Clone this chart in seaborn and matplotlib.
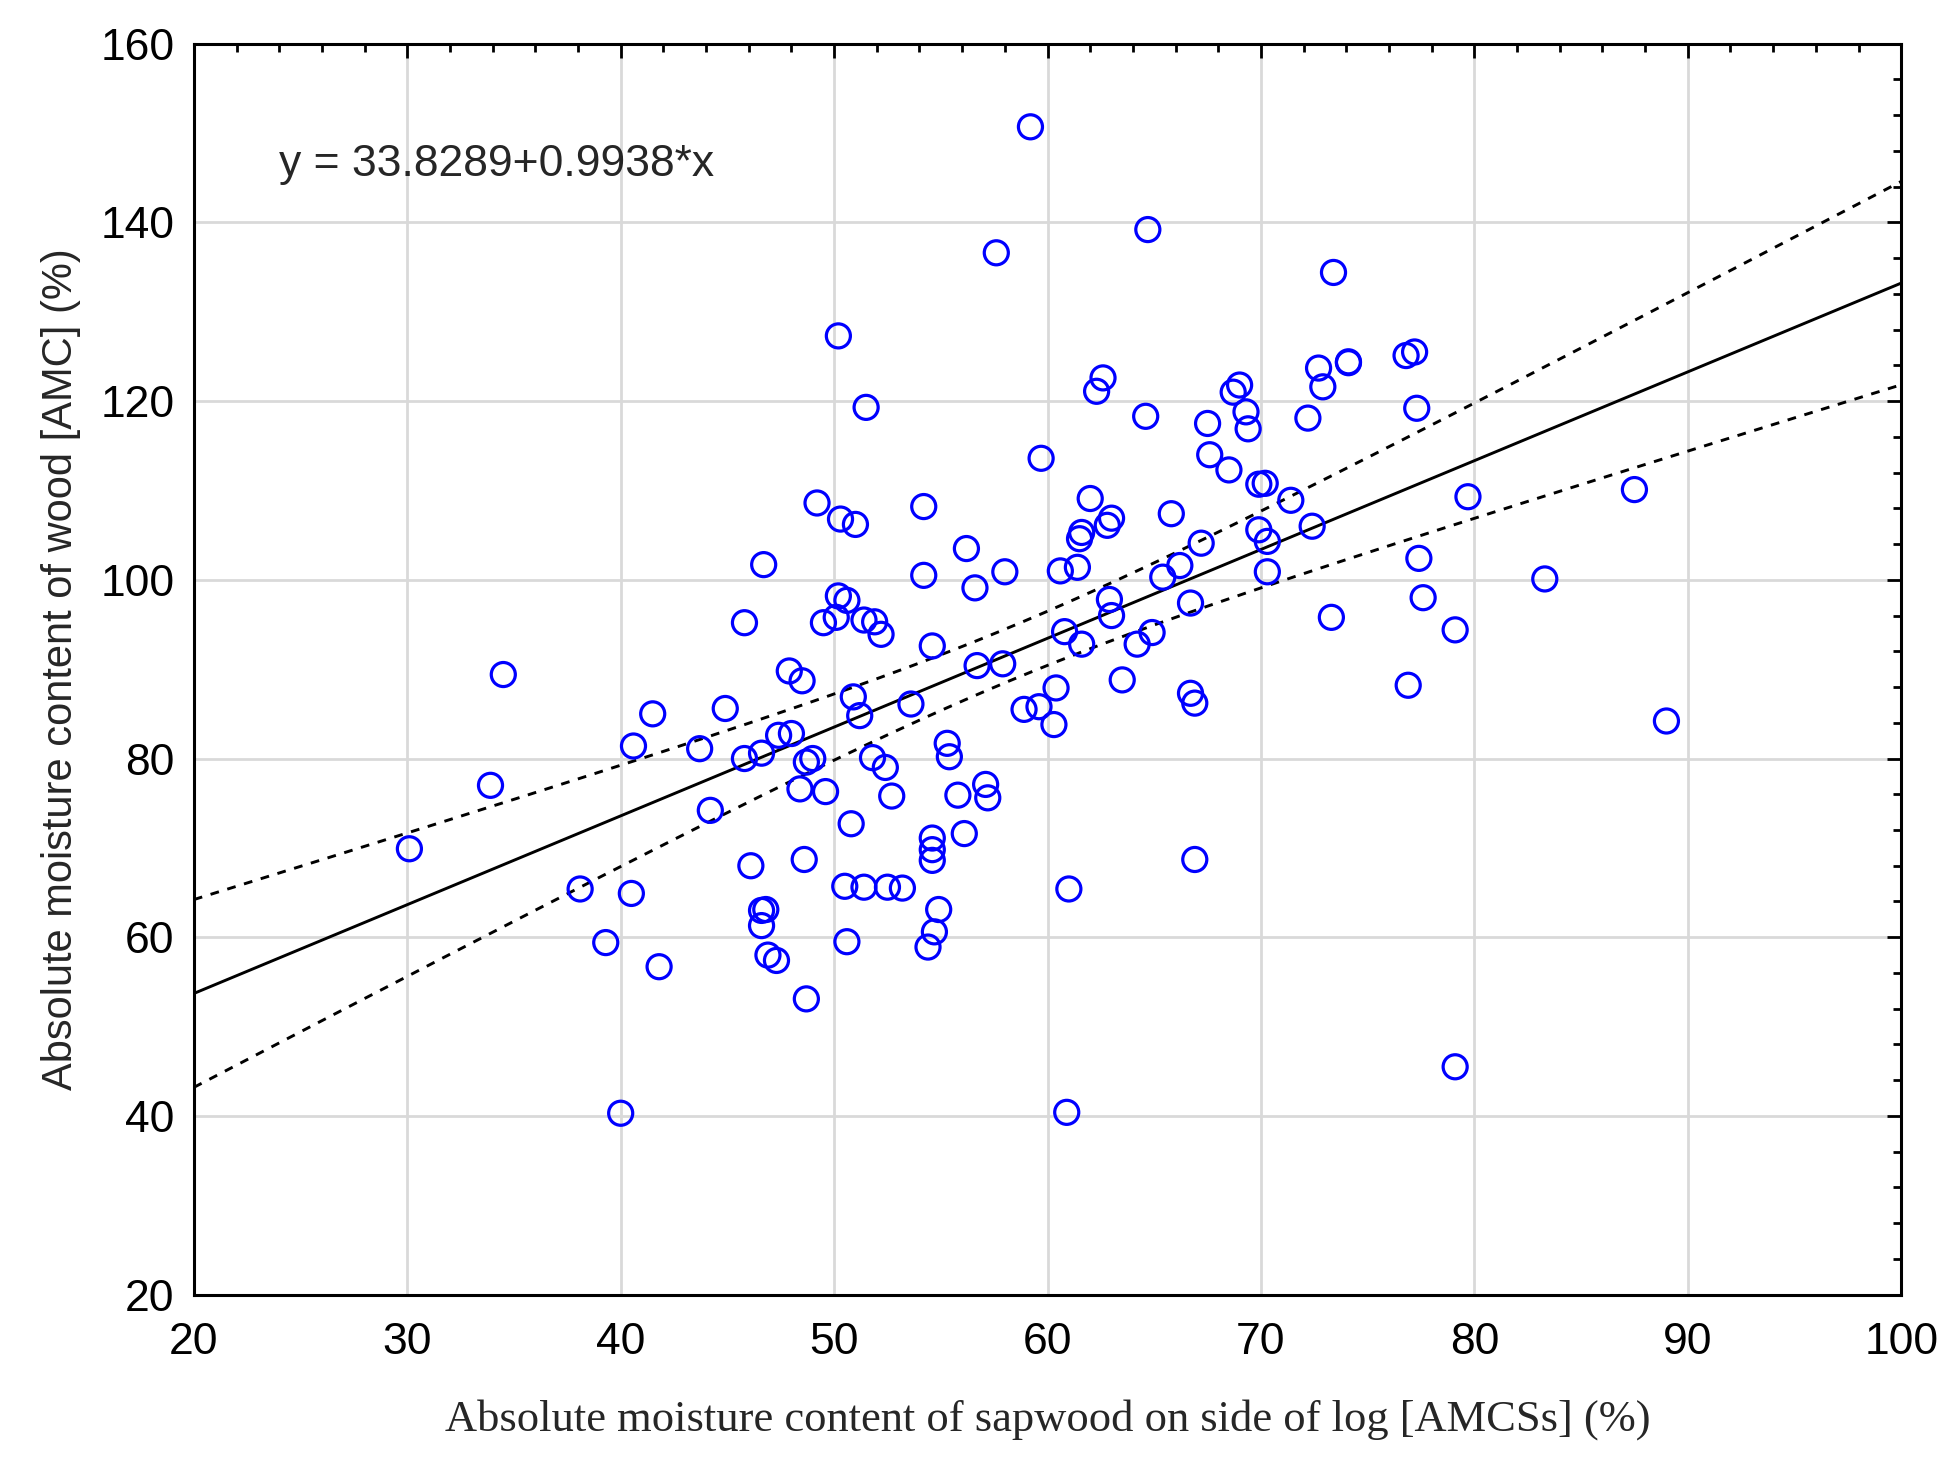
import numpy as np
import pandas as pd
import matplotlib
matplotlib.use("Agg")
import matplotlib.pyplot as plt
import seaborn as sns
from matplotlib.ticker import MultipleLocator

# sapwood moisture (x) and wood moisture (y)
amcss = [30.1, 33.9, 34.5, 38.1, 39.3, 40.0, 40.5, 40.6, 41.5, 41.8,
         43.7, 44.2, 44.9, 45.8, 45.8, 46.1, 46.6, 46.6, 46.6, 46.7,
         46.8, 46.9, 47.3, 47.4, 47.9, 48.0, 48.4, 48.5, 48.6, 48.7,
         48.7, 49.0, 49.2, 49.5, 49.6, 50.1, 50.2, 50.2, 50.3, 50.5,
         50.6, 50.6, 50.8, 50.9, 51.0, 51.2, 51.4, 51.4, 51.5, 51.8,
         51.9, 52.2, 52.4, 52.5, 52.7, 53.2, 53.6, 54.2, 54.2, 54.4,
         54.6, 54.6, 54.6, 54.6, 54.7, 54.9, 55.3, 55.4, 55.8, 56.1,
         56.2, 56.6, 56.7, 57.1, 57.2, 57.6, 57.9, 58.0, 58.9, 59.2,
         59.6, 59.7, 60.3, 60.4, 60.6, 60.8, 60.9, 61.0, 61.4, 61.5,
         61.6, 61.6, 62.0, 62.3, 62.6, 62.8, 62.9, 63.0, 63.0, 63.5,
         64.2, 64.6, 64.7, 64.9, 65.4, 65.8, 66.2, 66.7, 66.7, 66.9,
         66.9, 67.2, 67.5, 67.6, 68.5, 68.7, 69.0, 69.3, 69.4, 69.9,
         69.9, 70.2, 70.3, 70.3, 71.4, 72.2, 72.4, 72.7, 72.9, 73.3,
         73.4, 74.1, 74.1, 76.8, 76.9, 77.2, 77.3, 77.4, 77.6, 79.1,
         79.1, 79.7, 83.3, 87.5, 89.0]
amc = [69.9, 77.0, 89.4, 65.4, 59.4, 40.3, 64.9, 81.4, 85.0, 56.7,
       81.1, 74.2, 85.6, 95.2, 80.0, 68.0, 63.0, 61.3, 80.6, 101.7,
       63.1, 58.0, 57.4, 82.6, 89.8, 82.8, 76.6, 88.7, 68.7, 79.6,
       53.1, 80.0, 108.6, 95.2, 76.3, 95.8, 127.3, 98.2, 106.8, 65.7,
       59.5, 97.7, 72.7, 86.9, 106.2, 84.8, 95.5, 65.6, 119.3, 80.1,
       95.3, 93.9, 79.0, 65.6, 75.8, 65.5, 86.1, 108.2, 100.5, 58.9,
       92.6, 71.1, 69.8, 68.6, 60.6, 63.1, 81.7, 80.2, 75.9, 71.6,
       103.5, 99.1, 90.4, 77.1, 75.6, 136.6, 90.6, 100.9, 85.5, 150.7,
       85.8, 113.6, 83.8, 87.9, 101.0, 94.2, 40.4, 65.4, 101.4, 104.6,
       105.3, 92.8, 109.1, 121.1, 122.6, 106.1, 97.8, 106.9, 96.0, 88.8,
       92.8, 118.3, 139.2, 94.1, 100.3, 107.4, 101.6, 97.4, 87.3, 68.7,
       86.2, 104.1, 117.5, 114.0, 112.3, 121.0, 121.8, 118.8, 116.9, 110.7,
       105.6, 110.8, 104.3, 100.9, 108.9, 118.1, 106.0, 123.7, 121.6, 95.8,
       134.4, 124.4, 124.3, 125.1, 88.2, 125.5, 119.2, 102.4, 98.0, 94.4,
       45.5, 109.3, 100.1, 110.1, 84.2]

intercept = 33.8289
slope = 0.9938
t_crit = 1.977  # 95%, n-2 = 143

df = pd.DataFrame({"x": amcss, "y": amc})

# fitted line and 95% confidence band for the mean
n = len(df)
resid = df.y - (intercept + slope * df.x)
s = np.sqrt((resid ** 2).sum() / (n - 2))
sxx = ((df.x - df.x.mean()) ** 2).sum()
xs = np.linspace(20, 100, 300)
fit = intercept + slope * xs
half = t_crit * s * np.sqrt(1 / n + (xs - df.x.mean()) ** 2 / sxx)

sns.set_style("white")
plt.rcParams['font.family'] = ['Liberation Sans', 'DejaVu Sans']

fig = plt.figure(figsize=(19.6, 14.72), dpi=100)
ax = fig.add_axes([0.0989, 0.1205, 0.8711, 0.8498])

ax.grid(True, color="#d9d9d9", linewidth=2, zorder=0)
ax.set_axisbelow(True)

sns.lineplot(x=xs, y=fit, ax=ax, color="black", linewidth=2.1, zorder=3)
sns.lineplot(x=xs, y=fit + half, ax=ax, color="black", linewidth=2.1,
             linestyle=(0, (3, 3)), zorder=3)
sns.lineplot(x=xs, y=fit - half, ax=ax, color="black", linewidth=2.1,
             linestyle=(0, (3, 3)), zorder=3)

sns.scatterplot(data=df, x="x", y="y", ax=ax, marker="o", s=300,
                facecolors="none", edgecolor="blue", linewidth=2.3, zorder=4)

ax.set_xlim(20, 100)
ax.set_ylim(20, 160)
ax.xaxis.set_major_locator(MultipleLocator(10))
ax.xaxis.set_minor_locator(MultipleLocator(2))
ax.yaxis.set_major_locator(MultipleLocator(20))
ax.yaxis.set_minor_locator(MultipleLocator(4))
ax.tick_params(which="both", direction="in", top=True, right=True,
               colors="black", labelsize=32)
ax.tick_params(which="major", length=10, width=2)
ax.tick_params(which="minor", length=6, width=2)
ax.tick_params(axis="x", pad=20)
ax.tick_params(axis="y", pad=14)
for sp in ax.spines.values():
    sp.set_color("black")
    sp.set_linewidth(2.2)

ax.set_xlabel("Absolute moisture content of sapwood on side of log [AMCSs] (%)",
              fontsize=32, family=["Liberation Serif", "DejaVu Serif"], labelpad=26)
ax.set_ylabel("Absolute moisture content of wood [AMC] (%)", fontsize=30, labelpad=14)

ax.text(24, 146.5, "y = 33.8289+0.9938*x", fontsize=32, va="center", ha="left")

fig.savefig("out.png", dpi=100)
